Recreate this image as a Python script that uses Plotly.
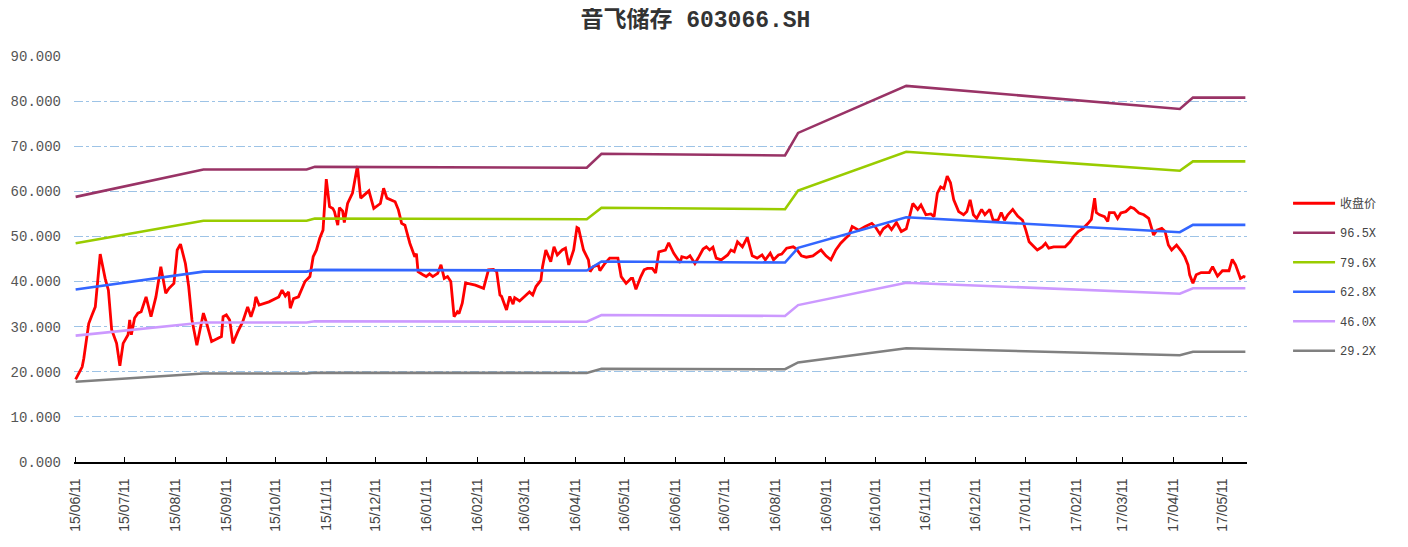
import plotly.graph_objects as go

title_text = "音飞储存 603066.SH"

close_dates = [
    '2015-06-11','2015-06-15','2015-06-16','2015-06-19','2015-06-21','2015-06-23','2015-06-26','2015-06-29','2015-07-01','2015-07-03',
    '2015-07-06','2015-07-08','2015-07-10','2015-07-13','2015-07-14','2015-07-15','2015-07-17','2015-07-19','2015-07-21','2015-07-24',
    '2015-07-27','2015-07-30','2015-08-02','2015-08-05','2015-08-07','2015-08-10','2015-08-12','2015-08-14','2015-08-17','2015-08-19',
    '2015-08-21','2015-08-24','2015-08-28','2015-08-30','2015-09-02','2015-09-05','2015-09-08','2015-09-09','2015-09-11','2015-09-13',
    '2015-09-15','2015-09-18','2015-09-21','2015-09-24','2015-09-26','2015-09-28','2015-09-29','2015-10-01','2015-10-07','2015-10-13',
    '2015-10-15','2015-10-17','2015-10-19','2015-10-20','2015-10-22','2015-10-25','2015-10-27','2015-10-29','2015-11-01','2015-11-03',
    '2015-11-05','2015-11-07','2015-11-09','2015-11-11','2015-11-13','2015-11-15','2015-11-16','2015-11-18','2015-11-19','2015-11-21',
    '2015-11-22','2015-11-24','2015-11-27','2015-11-30','2015-12-02','2015-12-05','2015-12-07','2015-12-10','2015-12-14','2015-12-16',
    '2015-12-18','2015-12-23','2015-12-25','2015-12-27','2015-12-29','2016-01-01','2016-01-04','2016-01-05','2016-01-06','2016-01-09',
    '2016-01-11','2016-01-13','2016-01-15','2016-01-18','2016-01-20','2016-01-22','2016-01-24','2016-01-26','2016-01-28','2016-01-30',
    '2016-01-31','2016-02-02','2016-02-04','2016-02-10','2016-02-15','2016-02-18','2016-02-21','2016-02-23','2016-02-25','2016-02-26',
    '2016-02-29','2016-03-02','2016-03-04','2016-03-05','2016-03-08','2016-03-11','2016-03-14','2016-03-16','2016-03-18','2016-03-21',
    '2016-03-22','2016-03-24','2016-03-27','2016-03-29','2016-03-31','2016-04-03','2016-04-05','2016-04-07','2016-04-10','2016-04-12',
    '2016-04-13','2016-04-16','2016-04-19','2016-04-20','2016-04-22','2016-04-25','2016-04-26','2016-04-29','2016-05-02','2016-05-07',
    '2016-05-09','2016-05-12','2016-05-15','2016-05-16','2016-05-18','2016-05-21','2016-05-23','2016-05-25','2016-05-28','2016-05-30',
    '2016-06-01','2016-06-05','2016-06-07','2016-06-10','2016-06-14','2016-06-15','2016-06-18','2016-06-20','2016-06-23','2016-06-25',
    '2016-06-28','2016-06-30','2016-07-02','2016-07-04','2016-07-06','2016-07-09','2016-07-13','2016-07-15','2016-07-17','2016-07-19',
    '2016-07-22','2016-07-25','2016-07-28','2016-07-31','2016-08-03','2016-08-05','2016-08-08','2016-08-10','2016-08-13','2016-08-15',
    '2016-08-18','2016-08-22','2016-08-24','2016-08-27','2016-08-30','2016-09-03','2016-09-08','2016-09-11','2016-09-14','2016-09-17',
    '2016-09-20','2016-09-23','2016-09-25','2016-09-27','2016-10-01','2016-10-05','2016-10-09','2016-10-11','2016-10-14','2016-10-16',
    '2016-10-19','2016-10-21','2016-10-24','2016-10-27','2016-10-30','2016-11-01','2016-11-03','2016-11-06','2016-11-08','2016-11-11',
    '2016-11-14','2016-11-16','2016-11-18','2016-11-20','2016-11-22','2016-11-24','2016-11-26','2016-11-28','2016-12-01','2016-12-04',
    '2016-12-06','2016-12-08','2016-12-10','2016-12-12','2016-12-15','2016-12-17','2016-12-20','2016-12-22','2016-12-25','2016-12-27',
    '2016-12-29','2016-12-31','2017-01-03','2017-01-06','2017-01-09','2017-01-11','2017-01-13','2017-01-16','2017-01-18','2017-01-21',
    '2017-01-23','2017-01-25','2017-01-28','2017-02-01','2017-02-04','2017-02-07','2017-02-09','2017-02-12','2017-02-15','2017-02-18',
    '2017-02-20','2017-02-22','2017-02-23','2017-02-25','2017-02-28','2017-03-02','2017-03-03','2017-03-06','2017-03-08','2017-03-10',
    '2017-03-13','2017-03-16','2017-03-18','2017-03-21','2017-03-24','2017-03-27','2017-03-29','2017-03-30','2017-04-01','2017-04-04',
    '2017-04-06','2017-04-08','2017-04-10','2017-04-13','2017-04-16','2017-04-18','2017-04-20','2017-04-21','2017-04-23','2017-04-25',
    '2017-04-28','2017-05-03','2017-05-05','2017-05-08','2017-05-11','2017-05-15','2017-05-17','2017-05-19','2017-05-22','2017-05-24','2017-05-25',
]

close_values = [
    18.3,21.1,23.0,30.7,32.6,34.4,46.1,40.7,38.1,29.3,
    26.3,21.3,26.3,28.2,31.5,28.2,31.9,33.0,33.3,36.6,
    32.2,36.6,43.3,37.4,38.5,39.6,47.0,48.3,44.0,38.9,
    31.5,25.9,33.0,30.7,26.7,27.2,27.8,32.2,32.6,31.5,
    26.3,28.9,31.1,34.4,32.2,34.4,36.6,34.8,35.5,36.6,
    38.1,36.8,37.7,34.1,36.2,36.6,38.5,40.0,41.1,45.5,
    47.0,49.6,51.4,62.7,56.6,56.2,55.5,52.5,56.4,55.6,
    53.1,57.3,59.6,65.6,58.5,59.6,60.1,56.2,57.3,60.7,
    58.5,57.7,55.9,52.9,52.5,48.5,45.5,46.2,42.2,41.5,
    41.1,41.7,41.1,41.8,43.7,40.7,41.1,40.0,32.2,33.3,
    32.9,35.2,39.7,39.2,38.5,42.6,42.7,42.2,37.0,36.7,
    33.7,36.7,35.0,36.4,35.7,36.7,37.7,37.0,38.9,40.3,
    43.3,47.0,44.4,47.7,45.9,47.0,47.4,43.7,47.0,52.0,
    51.8,47.0,44.8,42.2,43.3,43.7,42.4,44.0,45.2,45.2,
    41.1,39.6,40.7,40.7,38.3,41.1,42.6,42.9,42.9,41.9,
    46.6,47.0,48.6,46.3,44.2,45.5,45.2,45.7,44.0,45.2,
    47.2,47.7,47.0,47.6,45.2,44.8,45.9,47.0,46.6,48.8,
    47.7,49.8,45.7,45.2,45.9,44.8,46.3,44.8,45.9,46.1,
    47.4,47.7,47.2,45.7,45.4,45.7,47.0,45.7,44.8,47.0,
    48.5,49.6,50.3,52.2,51.4,52.2,52.9,52.2,50.5,51.7,
    52.5,51.5,53.1,51.1,51.7,54.4,57.3,56.0,57.0,54.8,
    55.0,54.4,59.6,61.0,60.6,63.4,61.9,58.1,55.5,54.8,
    55.5,58.1,54.8,54.0,56.0,54.8,56.0,53.6,53.6,55.3,
    53.6,54.8,56.0,54.5,53.6,51.4,48.8,47.7,47.0,47.7,
    48.5,47.4,47.7,47.7,47.7,48.8,49.9,51.1,51.8,52.9,
    53.8,58.5,55.3,54.8,54.4,53.3,55.3,55.3,54.0,55.2,
    55.5,56.5,56.2,55.2,54.8,54.0,51.4,50.3,51.4,51.8,
    51.1,48.1,47.0,48.1,46.7,45.5,43.7,41.5,39.6,41.5,
    42.0,42.0,43.3,41.2,42.4,42.4,44.9,43.7,40.7,41.1,41.0,
]

band_dates = ['2015-06-11','2015-08-28','2015-10-30','2015-11-04','2016-04-18','2016-04-27',
              '2016-08-17','2016-08-25','2016-10-30','2017-04-15','2017-04-23','2017-05-25']
band_965 = [58.77, 64.85, 64.85, 65.43, 65.23, 68.32, 67.94, 72.95, 83.38, 78.26, 80.77, 80.77]
band_796 = [48.48, 53.49, 53.49, 53.97, 53.81, 56.36, 56.04, 60.18, 68.77, 64.56, 66.63, 66.63]
band_628 = [38.25, 42.20, 42.20, 42.58, 42.45, 44.46, 44.21, 47.48, 54.26, 50.93, 52.56, 52.56]
band_460 = [28.01, 30.91, 30.91, 31.19, 31.10, 32.57, 32.38, 34.78, 39.74, 37.31, 38.50, 38.50]
band_292 = [17.78, 19.62, 19.62, 19.80, 19.74, 20.67, 20.56, 22.08, 25.23, 23.68, 24.44, 24.44]

series_names = ["收盘价", "96.5X", "79.6X", "62.8X", "46.0X", "29.2X"]
series_colors = ["#FF0000", "#993366", "#99CC00", "#3366FF", "#CC99FF", "#808080"]

tick_dates = ['2015-06-11','2015-07-11','2015-08-11','2015-09-11','2015-10-11','2015-11-11','2015-12-11',
              '2016-01-11','2016-02-11','2016-03-11','2016-04-11','2016-05-11','2016-06-11','2016-07-11',
              '2016-08-11','2016-09-11','2016-10-11','2016-11-11','2016-12-11','2017-01-11','2017-02-11',
              '2017-03-11','2017-04-11','2017-05-11']
tick_labels = ['15/06/11','15/07/11','15/08/11','15/09/11','15/10/11','15/11/11','15/12/11',
               '16/01/11','16/02/11','16/03/11','16/04/11','16/05/11','16/06/11','16/07/11',
               '16/08/11','16/09/11','16/10/11','16/11/11','16/12/11','17/01/11','17/02/11',
               '17/03/11','17/04/11','17/05/11']
y_ticks = [0, 10, 20, 30, 40, 50, 60, 70, 80, 90]

fig = go.Figure()
fig.add_trace(go.Scatter(x=close_dates, y=close_values, mode="lines", name=series_names[0],
                         line=dict(color=series_colors[0], width=2.8), legendgroup="g0"))
for i, vals in enumerate([band_965, band_796, band_628, band_460, band_292], start=1):
    fig.add_trace(go.Scatter(x=band_dates, y=vals, mode="lines", name=series_names[i],
                             line=dict(color=series_colors[i], width=2.6), legendgroup="g%d" % i))

mono = "Liberation Mono, Noto Sans CJK SC, monospace"

fig.update_layout(
    width=1400, height=539,
    paper_bgcolor="white", plot_bgcolor="white",
    margin=dict(l=66, r=161, t=48, b=85, autoexpand=False),
    title=dict(text="<b>" + title_text + "</b>", x=0.491, xref="container", xanchor="center",
               y=0.995, yref="container", yanchor="top",
               font=dict(family=mono, size=23, color="#333333")),
    showlegend=True,
    legend=dict(x=1.035, y=0.455, xanchor="left", yanchor="middle",
                font=dict(family=mono, size=12, color="#444444"),
                tracegroupgap=10.5, itemwidth=42, bgcolor="rgba(0,0,0,0)"),
    xaxis=dict(type="date", range=["2015-06-10", "2017-05-26"], automargin=False,
               tickmode="array", tickvals=tick_dates, ticktext=tick_labels,
               tickangle=-90, ticks="inside", ticklen=5, tickcolor="#000000",
               showline=True, linecolor="#000000", linewidth=1.5,
               showgrid=False, zeroline=False, ticklabelstandoff=9,
               tickfont=dict(family="Liberation Sans, Arial", size=14, color="#444444")),
    yaxis=dict(range=[0, 90], tickmode="array", tickvals=y_ticks, tickformat=".3f", automargin=False,
               showgrid=True, gridcolor="#9DC3E6", gridwidth=1, griddash="dashdot",
               showline=False, zeroline=False, ticks="", ticklabelstandoff=12,
               tickfont=dict(family=mono, size=14, color="#555555")),
)

fig.write_html("out.html")
